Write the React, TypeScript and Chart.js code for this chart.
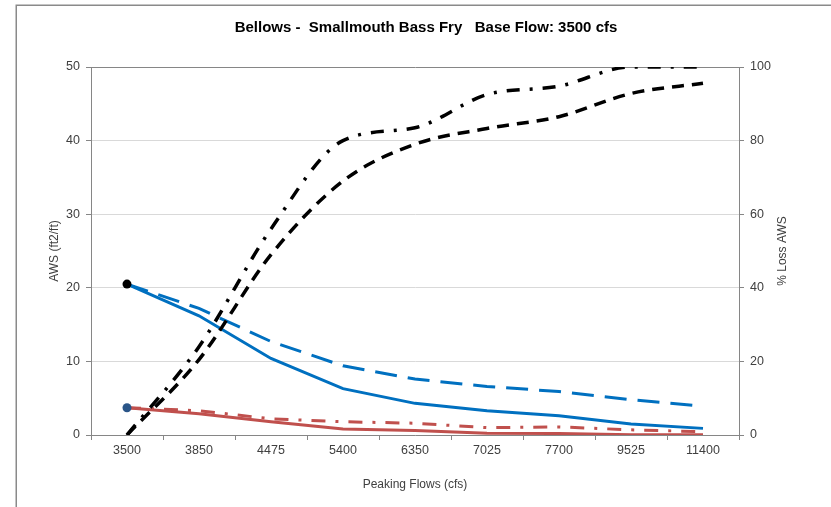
import React, { useEffect, useRef } from "react";
import { Chart, registerables } from "chart.js";

Chart.register(...registerables);

// ---- data ----
const titleText = "Bellows -  Smallmouth Bass Fry   Base Flow: 3500 cfs";
const xTitle = "Peaking Flows (cfs)";
const leftTitle = "AWS (ft2/ft)";
const rightTitle = "% Loss AWS";

const categories = ["3500", "3850", "4475", "5400", "6350", "7025", "7700", "9525", "11400"];

// AWS (left axis)
const blueSolid = [20.5, 16.2, 10.4, 6.3, 4.3, 3.3, 2.6, 1.5, 0.9];
const blueDashed = [20.5, 17.2, 12.7, 9.4, 7.6, 6.6, 5.9, 4.8, 3.9];
const redSolid = [3.7, 2.9, 1.8, 0.8, 0.6, 0.25, 0.2, 0.05, 0.05];
const redDashDot = [3.7, 3.3, 2.2, 1.8, 1.6, 1.0, 1.1, 0.7, 0.45];

// % Loss AWS (right axis)
const blackDashed = [0, 20.5, 49, 69, 79, 83.3, 86.5, 92.8, 95.6];
const blackDashDot = [0, 24, 56, 80, 83.5, 92.5, 94.8, 100, 100];

const leftMax = 50;
const leftStep = 10;
const rightMax = 100;
const rightStep = 20;

const FONT = "'Liberation Sans', Arial, sans-serif";
const AXIS_GRAY = "#868686";
const GRID_GRAY = "#d9d9d9";
const TEXT_GRAY = "#404040";

const framePlugin = {
  id: "frame",
  beforeDraw(chart: any) {
    const { ctx, width, height } = chart;
    ctx.save();
    ctx.fillStyle = "#ffffff";
    ctx.fillRect(0, 0, width, height);
    ctx.strokeStyle = "#8a8a8a";
    ctx.lineWidth = 1.5;
    ctx.strokeRect(16.25, 5.25, width + 40, height + 40);
    ctx.restore();
  },
  afterDraw(chart: any) {
    const { ctx, chartArea } = chart;
    ctx.save();
    ctx.fillStyle = TEXT_GRAY;
    ctx.font = `12px ${FONT}`;
    ctx.textAlign = "center";
    ctx.textBaseline = "middle";
    ctx.translate(783, (chartArea.top + chartArea.bottom) / 2);
    ctx.rotate(-Math.PI / 2);
    ctx.fillText(rightTitle, 0, 0);
    ctx.restore();
  },
};

function firstOnly(r: number) {
  return categories.map((_, i) => (i === 0 ? r : 0));
}

export default function App() {
  const ref = useRef<HTMLCanvasElement>(null);

  useEffect(() => {
    if (!ref.current) return;
    const chart = new Chart(ref.current, {
      type: "line",
      data: {
        labels: categories,
        datasets: [
          {
            label: "Loss dash-dot",
            data: blackDashDot,
            yAxisID: "y1",
            borderColor: "#000000",
            borderWidth: 3.5,
            borderDash: [13, 10, 3, 10],
            pointRadius: 0,
            cubicInterpolationMode: "monotone",
            fill: false,
          },
          {
            label: "Loss dashed",
            data: blackDashed,
            yAxisID: "y1",
            borderColor: "#000000",
            borderWidth: 3.5,
            borderDash: [12, 8],
            pointRadius: 0,
            cubicInterpolationMode: "monotone",
            fill: false,
          },
          {
            label: "AWS blue",
            data: blueSolid,
            yAxisID: "y",
            borderColor: "#0070C0",
            borderWidth: 3,
            pointRadius: firstOnly(4.5),
            pointBackgroundColor: "#000000",
            pointBorderWidth: 0,
            tension: 0,
            fill: false,
          },
          {
            label: "AWS blue dashed",
            data: blueDashed,
            yAxisID: "y",
            borderColor: "#0070C0",
            borderWidth: 3,
            borderDash: [22, 11],
            pointRadius: 0,
            tension: 0,
            fill: false,
          },
          {
            label: "AWS red",
            data: redSolid,
            yAxisID: "y",
            borderColor: "#C0504D",
            borderWidth: 3,
            pointRadius: firstOnly(4.5),
            pointBackgroundColor: "#2A5588",
            pointBorderWidth: 0,
            tension: 0,
            fill: false,
          },
          {
            label: "AWS red dash-dot",
            data: redDashDot,
            yAxisID: "y",
            borderColor: "#C0504D",
            borderWidth: 3,
            borderDash: [14, 10, 3, 10],
            pointRadius: 0,
            tension: 0,
            fill: false,
          },
        ],
      },
      options: {
        responsive: false,
        animation: false,
        devicePixelRatio: 1,
        layout: { padding: { left: 21, right: 0, top: 0, bottom: 0 } },
        plugins: {
          legend: { display: false },
          tooltip: { enabled: false },
          title: {
            display: true,
            text: titleText,
            color: "#000000",
            font: { family: FONT, size: 15, weight: "bold" },
            padding: { top: 19, bottom: 30 },
          },
        },
        scales: {
          x: {
            type: "category",
            offset: true,
            grid: {
              display: true,
              drawOnChartArea: false,
              drawTicks: true,
              tickLength: 5,
              tickColor: AXIS_GRAY,
              offset: true,
            },
            border: { display: true, color: AXIS_GRAY, width: 1 },
            ticks: {
              color: TEXT_GRAY,
              font: { family: FONT, size: 12.5 },
              padding: 3,
              maxRotation: 0,
              autoSkip: false,
            },
            title: {
              display: true,
              text: xTitle,
              color: TEXT_GRAY,
              font: { family: FONT, size: 12 },
              padding: { top: 0, bottom: 15 },
            },
            afterFit(scale: any) {
              scale.height = 72;
            },
          },
          y: {
            position: "left",
            min: 0,
            max: leftMax,
            ticks: {
              stepSize: leftStep,
              color: TEXT_GRAY,
              font: { family: FONT, size: 12.5 },
              padding: 6,
            },
            grid: {
              color: (c: any) => (c.tick && c.tick.value === leftMax ? AXIS_GRAY : GRID_GRAY),
              tickColor: AXIS_GRAY,
              drawTicks: true,
              tickLength: 5,
            },
            border: { display: true, color: AXIS_GRAY, width: 1 },
            title: {
              display: true,
              text: leftTitle,
              color: TEXT_GRAY,
              font: { family: FONT, size: 12 },
              padding: { top: 26, bottom: 0 },
            },
            afterFit(scale: any) {
              scale.width = 70;
            },
          },
          y1: {
            position: "right",
            min: 0,
            max: rightMax,
            ticks: {
              stepSize: rightStep,
              color: TEXT_GRAY,
              font: { family: FONT, size: 12.5 },
              padding: 6,
            },
            grid: {
              drawOnChartArea: false,
              tickColor: AXIS_GRAY,
              drawTicks: true,
              tickLength: 5,
            },
            border: { display: true, color: AXIS_GRAY, width: 1 },
            afterFit(scale: any) {
              scale.width = 92;
            },
          },
        },
      },
      plugins: [framePlugin],
    } as any);
    return () => chart.destroy();
  }, []);

  return (
    <div style={{ position: "fixed", left: 0, top: 0, width: 831, height: 507, background: "#fff" }}>
      <canvas ref={ref} width={831} height={507} style={{ display: "block" }} />
    </div>
  );
}
